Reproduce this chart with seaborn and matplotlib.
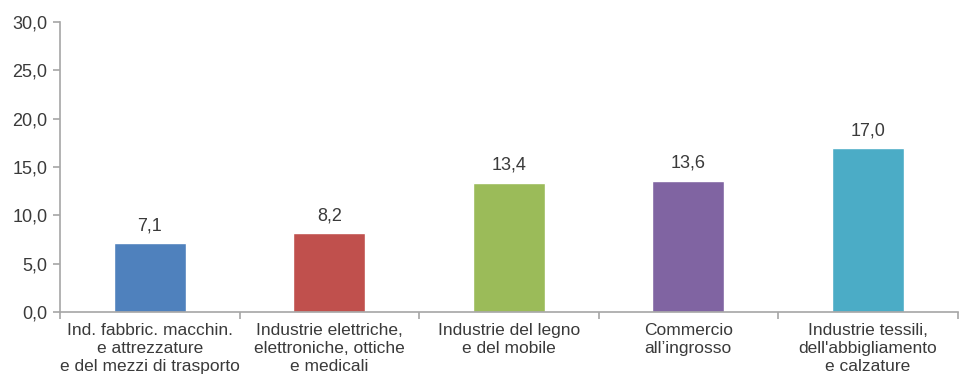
import matplotlib
matplotlib.use("Agg")
import matplotlib.pyplot as plt
import seaborn as sns
import pandas as pd
import numpy as np
from matplotlib.ticker import FuncFormatter, FixedLocator

# Data
categories = ["Ind. fabbric. macchin.\ne attrezzature\ne del mezzi di trasporto",
              "Industrie elettriche,\nelettroniche, ottiche\ne medicali",
              "Industrie del legno\ne del mobile",
              "Commercio\nall\u2019ingrosso",
              "Industrie tessili,\ndell'abbigliamento\ne calzature"]
values = [7.1, 8.2, 13.4, 13.6, 17.0]
colors = ["#4F81BD", "#C0504D", "#9BBB59", "#8064A2", "#4BACC6"]

sns.set_style("white")
plt.rcParams['font.family'] = ['Liberation Sans', 'DejaVu Sans']
text_color = "#3A3A3A"
axis_color = "#A6A6A6"

df = pd.DataFrame({"cat": categories, "val": values})

fig = plt.figure(figsize=(9.6, 3.84), dpi=100)
ax = fig.add_axes([0.0625, 0.1875, 0.935, 0.755])
sns.barplot(data=df, x="cat", y="val", hue="cat", palette=colors, legend=False,
            width=0.4, saturation=1, ax=ax)

for p, v in zip(ax.patches, values):
    ax.text(p.get_x() + p.get_width() / 2, v + 0.9, f"{v:.1f}".replace(".", ","),
            ha="center", va="bottom", fontsize=13, color=text_color)

ax.set_ylim(0, 30)
ax.set_xlim(-0.5, 4.5)
ax.set_yticks(np.arange(0, 31, 5))
ax.yaxis.set_major_formatter(FuncFormatter(lambda y, _: f"{y:.1f}".replace(".", ",")))
ax.set_xlabel("")
ax.set_ylabel("")

sns.despine(ax=ax, top=True, right=True)
for s in ["left", "bottom"]:
    ax.spines[s].set_color(axis_color)
    ax.spines[s].set_linewidth(1.2)

ax.tick_params(axis="y", which="major", direction="out", length=5, width=1.2,
               color=axis_color, labelsize=13, labelcolor=text_color, left=True, pad=4)
ax.tick_params(axis="x", which="major", length=0, labelsize=12.5, labelcolor=text_color, pad=8)
for lbl in ax.get_xticklabels():
    lbl.set_linespacing(1.25)
ax.xaxis.set_minor_locator(FixedLocator(np.arange(-0.5, 5, 1)))
ax.tick_params(axis="x", which="minor", direction="out", length=5, width=1.2,
               color=axis_color, bottom=True)

fig.savefig("out.png", dpi=100)
